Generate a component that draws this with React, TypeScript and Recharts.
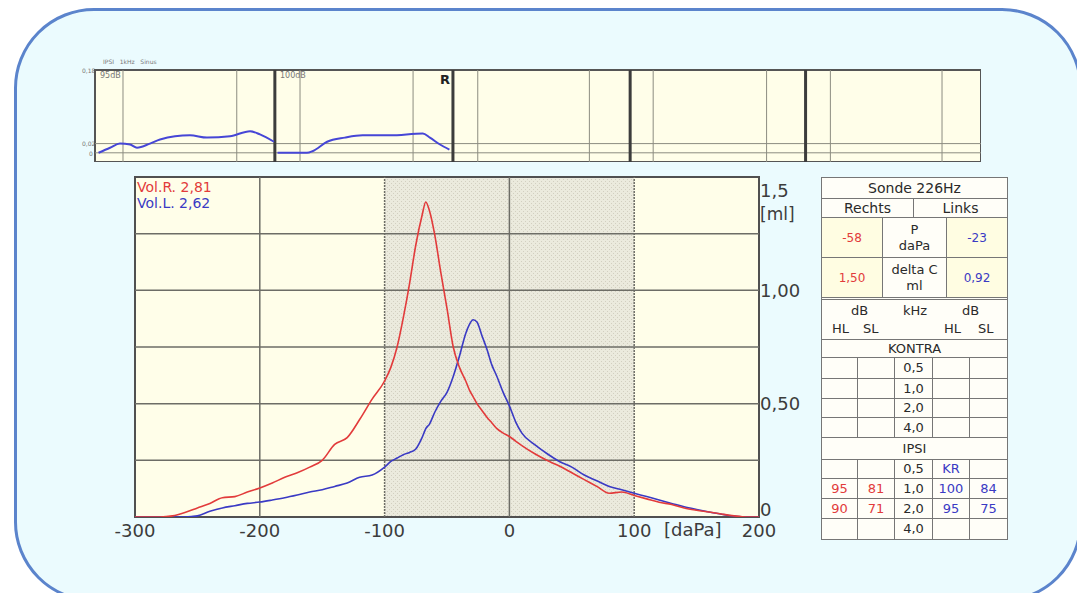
import React from "react";
import { Line, LineChart, ReferenceArea, ReferenceLine, XAxis, YAxis } from "recharts";

// main tympanogram: pressure (daPa) vs compliance (ml)
const pressure = [
  -300, -290, -280, -270, -260, -250, -240, -230, -220, -210, -200, -190, -180, -170, -160, -150,
  -140, -130, -120, -110, -100, -95, -90, -85, -80, -75, -70, -67, -64, -60, -55, -50, -45, -40,
  -35, -32, -29, -26, -22, -18, -14, -10, -5, 0, 5, 10, 20, 30, 40, 50, 60, 70, 80, 90, 100, 110,
  120, 130, 140, 150, 160, 170, 180, 190, 200,
];
const volRight = [
  0, 0, 0, 0.005, 0.02, 0.04, 0.06, 0.085, 0.09, 0.11, 0.128, 0.15, 0.175, 0.195, 0.22, 0.25,
  0.32, 0.35, 0.43, 0.52, 0.6, 0.66, 0.75, 0.88, 1.03, 1.2, 1.33, 1.39, 1.35, 1.25, 1.08, 0.92,
  0.75, 0.66, 0.6, 0.56, 0.53, 0.5, 0.47, 0.44, 0.415, 0.39, 0.37, 0.355, 0.335, 0.315, 0.28,
  0.25, 0.225, 0.195, 0.165, 0.135, 0.105, 0.11, 0.095, 0.08, 0.065, 0.055, 0.04, 0.03, 0.022,
  0.013, 0.005, 0, 0,
];
const volLeft = [
  0, 0, 0, 0, 0, 0.005, 0.025, 0.04, 0.05, 0.06, 0.066, 0.075, 0.085, 0.097, 0.11, 0.12, 0.135,
  0.15, 0.175, 0.185, 0.22, 0.245, 0.26, 0.275, 0.285, 0.3, 0.35, 0.39, 0.41, 0.46, 0.51, 0.55,
  0.62, 0.71, 0.81, 0.85, 0.87, 0.86, 0.8, 0.74, 0.67, 0.62, 0.55, 0.49, 0.42, 0.37, 0.32, 0.28,
  0.245, 0.22, 0.185, 0.16, 0.135, 0.12, 0.105, 0.09, 0.075, 0.06, 0.045, 0.033, 0.022, 0.012,
  0.004, 0, 0,
];
const xTicks = [-300, -200, -100, 0, 100, 200];
const yTicks = [0, 0.25, 0.5, 0.75, 1, 1.25, 1.5];
const yLabels: Record<string, string> = { "0": "0", "0.5": "0,50", "1": "1,00", "1.5": "1,5" };
const solidVerticals = [-200, 0];
const dottedVerticals = [-100, 100];
const innerHorizontals = [0.25, 0.5, 0.75, 1, 1.25];

// reflex strip (IPSI 1kHz), x in panel units
const reflexT95 = [0.02, 0.085, 0.141, 0.198, 0.237, 0.31, 0.367, 0.536, 0.632, 0.762, 0.875, 0.931, 1.01];
const reflexV95 = [0, 0.011, 0.02, 0.018, 0.011, 0.02, 0.029, 0.038, 0.033, 0.036, 0.047, 0.04, 0.024];
const reflexT100 = [1.03, 1.196, 1.23, 1.31, 1.41, 1.51, 1.665, 1.85, 1.89, 1.947, 2.0];
const reflexV100 = [0, 0, 0.004, 0.024, 0.033, 0.038, 0.038, 0.042, 0.033, 0.018, 0.007];
const panelEdges = [1.015, 2.02, 3.02, 4.01];
const markerLines = [0.158, 0.8, 1.157, 1.795, 2.16, 2.79, 3.15, 3.79, 4.15, 4.78];

// table
const kontraFreqs = ["0,5", "1,0", "2,0", "4,0"];
const ipsiFreqs = ["0,5", "1,0", "2,0", "4,0"];
const ipsiRightHL = ["", "95", "90", ""];
const ipsiRightSL = ["", "81", "71", ""];
const ipsiLeftHL = ["KR", "100", "95", ""];
const ipsiLeftSL = ["", "84", "75", ""];

const RED = "#e23b3b";
const BLUE = "#3a3ac4";
const GRID = "#6d6d66";
const CREAM = "#fffee9";
const FONT = "'DejaVu Sans', Verdana, sans-serif";

const tympData = pressure.map((p, i) => ({ p, r: volRight[i], l: volLeft[i] }));
const data95 = reflexT95.map((t, i) => ({ t, v: reflexV95[i] }));
const data100 = reflexT100.map((t, i) => ({ t, v: reflexV100[i] }));

function XTick(props: any) {
  const { x, y, payload } = props;
  return (
    <text x={x} y={y + 12} textAnchor="middle" fontSize={18} fill="#3c3c3c" fontFamily={FONT}>
      {payload.value}
    </text>
  );
}

function YTick(props: any) {
  const { x, y, payload } = props;
  const label = yLabels[String(payload.value)];
  if (!label) return null;
  const dy = payload.value === 1.5 ? 13 : payload.value === 0 ? -8 : 0;
  return (
    <g>
      <text x={x + 1} y={y + dy} dominantBaseline="central" fontSize={18} fill="#3c3c3c" fontFamily={FONT}>
        {label}
      </text>
      {payload.value === 1.5 && (
        <text x={x + 1} y={y + 37} dominantBaseline="central" fontSize={17} fill="#3c3c3c" fontFamily={FONT}>
          [ml]
        </text>
      )}
    </g>
  );
}

type CellProps = {
  x: number;
  y: number;
  w: number;
  h: number;
  color?: string;
  bg?: string;
  size?: number;
  children?: React.ReactNode;
};

function Cell({ x, y, w, h, color, bg, size, children }: CellProps) {
  return (
    <div
      style={{
        position: "absolute",
        left: x,
        top: y,
        width: w,
        height: h,
        boxSizing: "border-box",
        border: "1px solid #767676",
        marginLeft: -1,
        marginTop: -1,
        background: bg ?? "#fffef8",
        color: color ?? "#2a2a2a",
        fontSize: size ?? 13,
        lineHeight: "16px",
        display: "flex",
        flexDirection: "column",
        alignItems: "center",
        justifyContent: "center",
        textAlign: "center",
        whiteSpace: "nowrap",
      }}
    >
      {children}
    </div>
  );
}

function Table() {
  const cols = [822, 858, 895, 933, 970, 1008];
  const kontraRows = [358, 379, 399, 418, 438];
  const ipsiRows = [460, 479, 499, 519, 540];
  const colColors = [RED, RED, "#2a2a2a", BLUE, BLUE];
  const VAL = "#fffde2";
  return (
    <div style={{ position: "absolute", left: 0, top: 0 }}>
      <Cell x={822} y={178} w={187} h={22} size={14}>Sonde 226Hz</Cell>
      <Cell x={822} y={199} w={93} h={20} size={14}>Rechts</Cell>
      <Cell x={914} y={199} w={95} h={20} size={14}>Links</Cell>
      <Cell x={822} y={218} w={62} h={41} color={RED} bg={VAL} size={12}>-58</Cell>
      <Cell x={883} y={218} w={65} h={41}>
        <span>P</span>
        <span>daPa</span>
      </Cell>
      <Cell x={947} y={218} w={62} h={41} color={BLUE} bg={VAL} size={12}>-23</Cell>
      <Cell x={822} y={258} w={62} h={41} color={RED} bg={VAL} size={12}>1,50</Cell>
      <Cell x={883} y={258} w={65} h={41}>
        <span>delta C</span>
        <span>ml</span>
      </Cell>
      <Cell x={947} y={258} w={62} h={41} color={BLUE} bg={VAL} size={12}>0,92</Cell>
      <div
        style={{
          position: "absolute",
          left: 821,
          top: 297,
          width: 187,
          height: 43,
          boxSizing: "border-box",
          border: "1px solid #767676",
          borderTop: "3px double #767676",
          background: "#fffef8",
          fontSize: 13,
          lineHeight: "15px",
          color: "#2a2a2a",
        }}
      >
        <span style={{ position: "absolute", left: 29, top: 3 }}>dB</span>
        <span style={{ position: "absolute", left: 81, top: 3 }}>kHz</span>
        <span style={{ position: "absolute", left: 140, top: 3 }}>dB</span>
        <span style={{ position: "absolute", left: 10, top: 21 }}>HL</span>
        <span style={{ position: "absolute", left: 41, top: 21 }}>SL</span>
        <span style={{ position: "absolute", left: 122, top: 21 }}>HL</span>
        <span style={{ position: "absolute", left: 156, top: 21 }}>SL</span>
      </div>
      <Cell x={822} y={340} w={187} h={19}>KONTRA</Cell>
      {kontraFreqs.map((f, r) =>
        [0, 1, 2, 3, 4].map((c) => (
          <Cell
            key={`k${r}${c}`}
            x={cols[c]}
            y={kontraRows[r]}
            w={cols[c + 1] - cols[c] + 1}
            h={kontraRows[r + 1] - kontraRows[r] + 1}
          >
            {c === 2 ? f : ""}
          </Cell>
        ))
      )}
      <Cell x={822} y={438} w={187} h={23}>IPSI</Cell>
      {ipsiFreqs.map((f, r) => {
        const vals = [ipsiRightHL[r], ipsiRightSL[r], f, ipsiLeftHL[r], ipsiLeftSL[r]];
        return vals.map((v, c) => (
          <Cell
            key={`i${r}${c}`}
            x={cols[c]}
            y={ipsiRows[r]}
            w={cols[c + 1] - cols[c] + 1}
            h={ipsiRows[r + 1] - ipsiRows[r] + 1}
            color={colColors[c]}
          >
            {v}
          </Cell>
        ));
      })}
    </div>
  );
}

const tiny: React.CSSProperties = { position: "absolute", fontSize: 6, color: "#777", lineHeight: "7px" };

export default function App() {
  return (
    <div
      style={{
        position: "fixed",
        left: 0,
        top: 0,
        width: 1077,
        height: 593,
        overflow: "hidden",
        background: "#ffffff",
        fontFamily: FONT,
      }}
    >
      <div
        style={{
          position: "absolute",
          left: 14,
          top: 8,
          width: 1068,
          height: 594,
          borderRadius: 80,
          border: "3px solid #5b84cc",
          background: "#ebfbfe",
          boxSizing: "border-box",
        }}
      />

      {/* reflex strip */}
      <span style={{ ...tiny, left: 103, top: 58 }}>IPSI&nbsp;&nbsp;&nbsp;1kHz&nbsp;&nbsp;&nbsp;Sinus</span>
      <span style={{ ...tiny, left: 82, top: 67 }}>0,18</span>
      <span style={{ ...tiny, left: 82, top: 140 }}>0,02</span>
      <span style={{ ...tiny, left: 89, top: 150 }}>0</span>
      <div style={{ position: "absolute", left: 75, top: 60 }}>
        <LineChart width={906} height={102} margin={{ top: 10, right: 0, bottom: 0, left: 20 }}>
          <XAxis type="number" dataKey="t" domain={[0, 5]} hide allowDataOverflow />
          <YAxis type="number" domain={[-0.02, 0.18]} hide allowDataOverflow />
          <ReferenceArea x1={0} x2={5} y1={-0.02} y2={0.18} fill={CREAM} fillOpacity={1} stroke="#555" strokeWidth={2} />
          {markerLines.map((m) => (
            <ReferenceLine key={`m${m}`} x={m} stroke="#8c8c80" strokeWidth={1} />
          ))}
          <ReferenceLine y={0} stroke="#8c8c80" strokeWidth={1} />
          <ReferenceLine y={0.02} stroke="#8c8c80" strokeWidth={1} />
          {panelEdges.map((e) => (
            <ReferenceLine key={`e${e}`} x={e} stroke="#3c3c3c" strokeWidth={3} />
          ))}
          <Line data={data95} dataKey="v" type="monotone" stroke="#4646d6" strokeWidth={2} dot={false} isAnimationActive={false} />
          <Line data={data100} dataKey="v" type="monotone" stroke="#4646d6" strokeWidth={2} dot={false} isAnimationActive={false} />
        </LineChart>
      </div>
      <span style={{ ...tiny, fontSize: 8, left: 100, top: 72 }}>95dB</span>
      <span style={{ ...tiny, fontSize: 8, left: 280, top: 72 }}>100dB</span>
      <span style={{ position: "absolute", left: 440, top: 72, fontSize: 13, fontWeight: "bold", color: "#222" }}>R</span>

      {/* tympanogram */}
      <div style={{ position: "absolute", left: 95, top: 167 }}>
        <LineChart width={724} height={380} data={tympData} margin={{ top: 10, right: 0, bottom: 0, left: 40 }}>
          <defs>
            <pattern id="hatch" width="4" height="4" patternUnits="userSpaceOnUse">
              <rect width="4" height="4" fill="#ebeadd" />
              <rect width="1" height="1" fill="#d2cfc0" />
              <rect x="2" y="2" width="1" height="1" fill="#d2cfc0" />
            </pattern>
          </defs>
          <XAxis
            type="number"
            dataKey="p"
            domain={[-300, 200]}
            ticks={xTicks}
            axisLine={false}
            tickLine={false}
            height={30}
            tick={<XTick />}
            allowDataOverflow
          />
          <YAxis
            orientation="right"
            type="number"
            domain={[0, 1.5]}
            ticks={yTicks}
            axisLine={false}
            tickLine={false}
            tickSize={0}
            tickMargin={0}
            width={60}
            tick={<YTick />}
            allowDataOverflow
          />
          <ReferenceArea x1={-300} x2={200} y1={0} y2={1.5} fill={CREAM} fillOpacity={1} />
          <ReferenceArea x1={-100} x2={100} y1={0} y2={1.5} fill="url(#hatch)" fillOpacity={1} />
          {innerHorizontals.map((v) => (
            <ReferenceLine key={`h${v}`} y={v} stroke={GRID} strokeWidth={1.5} />
          ))}
          {solidVerticals.map((v) => (
            <ReferenceLine key={`s${v}`} x={v} stroke={GRID} strokeWidth={1.5} />
          ))}
          {dottedVerticals.map((v) => (
            <ReferenceLine key={`d${v}`} x={v} stroke={GRID} strokeWidth={1.5} strokeDasharray="2 1" />
          ))}
          <ReferenceArea x1={-300} x2={200} y1={0} y2={1.5} fill="none" stroke="#505050" strokeWidth={2} />
          <Line dataKey="l" type="monotone" stroke={BLUE} strokeWidth={1.6} dot={false} isAnimationActive={false} />
          <Line dataKey="r" type="monotone" stroke={RED} strokeWidth={1.6} dot={false} isAnimationActive={false} />
        </LineChart>
      </div>
      <span style={{ position: "absolute", left: 137, top: 179, fontSize: 14, lineHeight: "16px", color: RED }}>Vol.R. 2,81</span>
      <span style={{ position: "absolute", left: 137, top: 195, fontSize: 14, lineHeight: "16px", color: BLUE }}>Vol.L. 2,62</span>
      <span style={{ position: "absolute", left: 664, top: 519, fontSize: 18, color: "#3c3c3c" }}>[daPa]</span>

      <Table />
    </div>
  );
}
